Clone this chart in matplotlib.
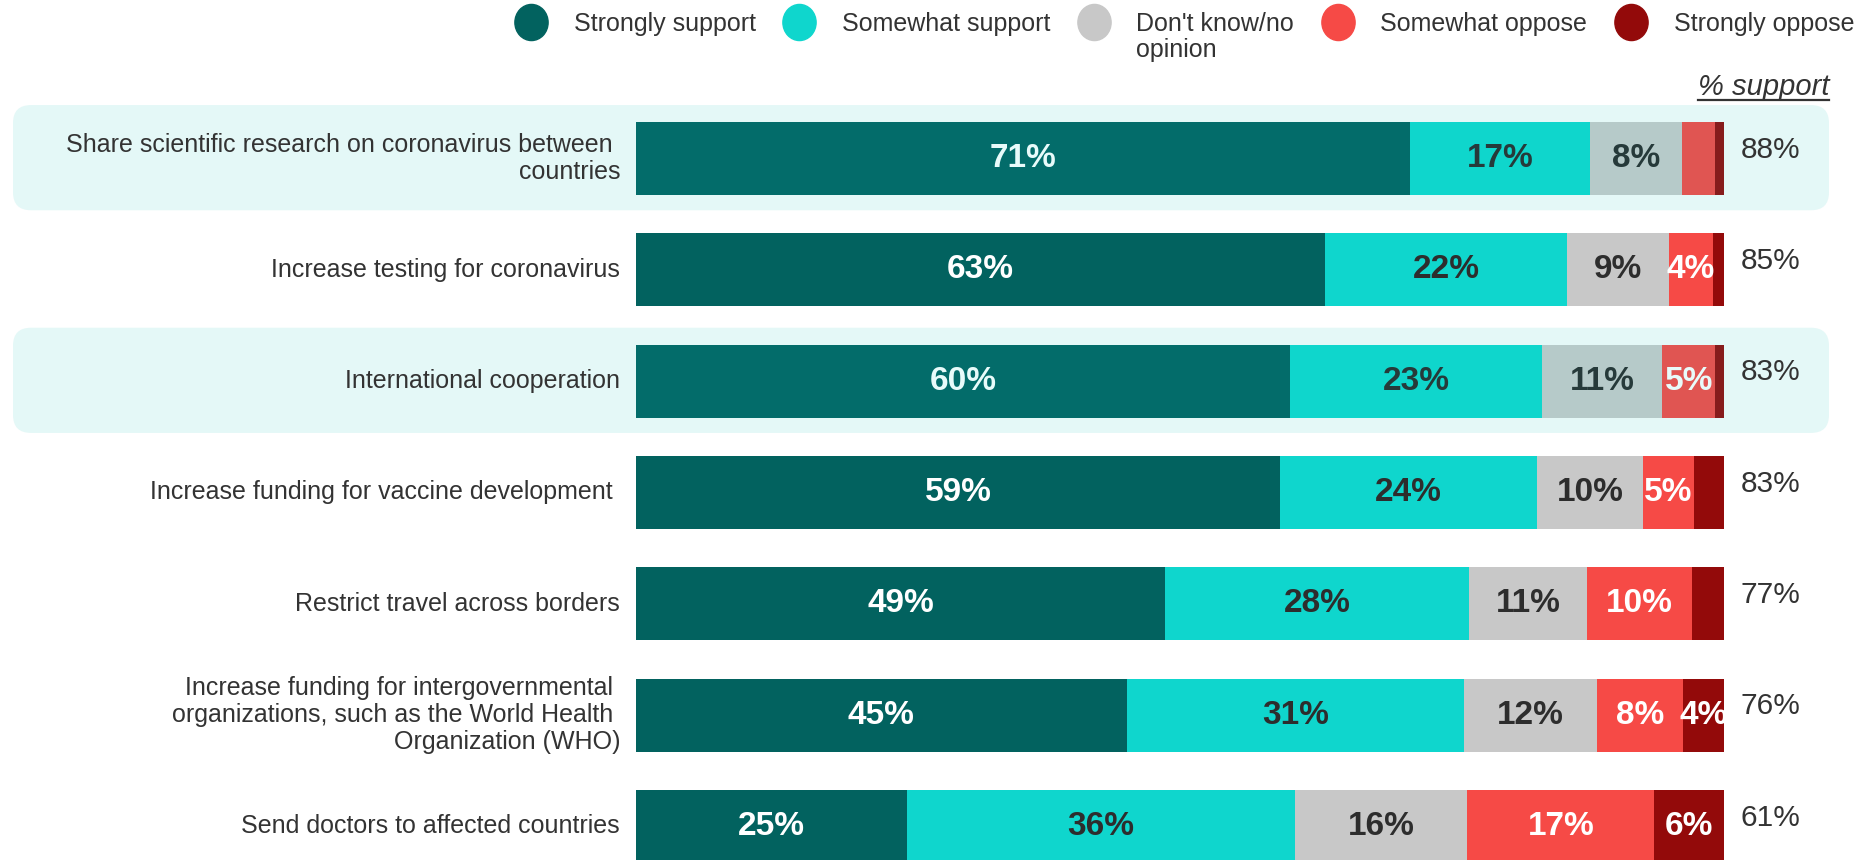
import matplotlib
matplotlib.use('Agg')
import matplotlib.pyplot as plt
from matplotlib.patches import FancyBboxPatch
from matplotlib.lines import Line2D
from matplotlib.path import Path
from matplotlib.transforms import Affine2D

plt.rcParams['font.family'] = ['Liberation Sans', 'DejaVu Sans']

# ---------------- data ----------------
categories = [
    "Share scientific research on coronavirus between \ncountries",
    "Increase testing for coronavirus",
    "International cooperation",
    "Increase funding for vaccine development ",
    "Restrict travel across borders",
    "Increase funding for intergovernmental \norganizations, such as the World Health \nOrganization (WHO)",
    "Send doctors to affected countries",
]
series = ["Strongly support", "Somewhat support", "Don't know/no",
          "Somewhat oppose", "Strongly oppose"]
series_extra_line = {2: "opinion"}   # second line of the "Don't know/no opinion" legend label
strongly_support = [71.1, 63.3, 60.1, 59.2, 48.6, 45.1, 24.9]
somewhat_support = [16.6, 22.3, 23.2, 23.6, 28.0, 31.0, 35.7]
dont_know = [8.4, 9.3, 11.0, 9.8, 10.8, 12.2, 15.8]
somewhat_oppose = [3.1, 4.1, 4.9, 4.6, 9.7, 7.9, 17.2]
strongly_oppose = [0.8, 1.0, 0.8, 2.8, 2.9, 3.8, 6.4]
pct_support = [88, 85, 83, 83, 77, 76, 61]
highlighted_rows = [0, 2]

# ---------------- style ----------------
colors = ['#02625f', '#0fd6cd', '#c8c8c8', '#f64a46', '#930a0a']
colors_hl = ['#036c6a', '#0fd6cc', '#b6cac9', '#e05552', '#861c1c']
txt_colors = ['white', '#2d2d2d', '#2d2d2d', 'white', 'white']
txt_colors_hl = ['#e8fbfa', '#263a3a', '#263a3a', '#e8fbfa', '#e8fbfa']
box_color = '#e4f8f7'
text_color = '#333333'

W, H = 1872, 860
fig = plt.figure(figsize=(W / 100, H / 100), dpi=100)
bar_left_px, bar_right_px = 636, 1724
ax = fig.add_axes([bar_left_px / W, 0, (bar_right_px - bar_left_px) / W, 1])
ax.set_xlim(0, 100)
row0_px, step_px = 158.5, 111.33
ax.set_ylim((H - row0_px) / step_px, -row0_px / step_px)
ax.axis('off')
px_x = (bar_right_px - bar_left_px) / 100.0  # pixels per x unit

data = [strongly_support, somewhat_support, dont_know, somewhat_oppose, strongly_oppose]
n = len(categories)
ys = list(range(n))
bar_h = 73 / step_px

# highlight boxes
for r in highlighted_rows:
    x0 = (13 - bar_left_px) / px_x
    x1 = (1829 - bar_left_px) / px_x
    rx = 18 / px_x
    box = FancyBboxPatch((x0, r - 0.48), x1 - x0, 0.945,
                         boxstyle=f"round,pad=0,rounding_size={rx}",
                         mutation_aspect=px_x / step_px,
                         facecolor=box_color, edgecolor='none', zorder=0,
                         clip_on=False)
    ax.add_patch(box)

left = [0.0] * n
for k, vals in enumerate(data):
    cols = [colors_hl[k] if i in highlighted_rows else colors[k] for i in range(n)]
    ax.barh(ys, vals, left=left, height=bar_h, color=cols, edgecolor='none', zorder=2)
    for i, v in enumerate(vals):
        lab = round(v)
        if lab >= 4:
            tc = txt_colors_hl[k] if i in highlighted_rows else txt_colors[k]
            ax.text(left[i] + v / 2, i, f"{lab}%", ha='center', va='center',
                    fontsize=24, fontweight='bold', color=tc, zorder=3)
    left = [a + b for a, b in zip(left, vals)]

# category labels
for i, c in enumerate(categories):
    ax.text((620 - bar_left_px) / px_x, i, c, ha='right', va='center',
            fontsize=18, color=text_color, linespacing=1.17, clip_on=False)

# % support labels
for i, p in enumerate(pct_support):
    ax.text(100 + (1741 - bar_right_px) / px_x, i - 0.08, f"{p}%", ha='left',
            va='center', fontsize=21.5, color=text_color, clip_on=False)

hdr = ax.text((1829 - bar_left_px) / px_x, (87 - row0_px) / step_px, "% support",
              ha='right', va='center', fontsize=21, style='italic',
              color=text_color, clip_on=False)

# legend
ell = Affine2D().scale(0.92, 1.0).transform_path(Path.unit_circle())
handles = [Line2D([], [], marker=ell, linestyle='none', markersize=26,
                  markerfacecolor=c, markeredgecolor=c) for c in colors]
leg = fig.legend(handles, series, loc='upper left',
                 bbox_to_anchor=(513.5 / W, 1 - 12 / H), ncol=5, frameon=False,
                 fontsize=18, handlelength=1.4, handletextpad=1.0,
                 columnspacing=1.05, borderpad=0, borderaxespad=0,
                 labelcolor=text_color)

fig.canvas.draw()
r = fig.canvas.get_renderer()
inv = fig.transFigure.inverted()

# second line of the multi-line legend label
for idx, extra in series_extra_line.items():
    lt = leg.get_texts()[idx]
    tb = lt.get_window_extent(r)
    fx, fy = inv.transform((tb.x0, tb.y0 - 26 + tb.height / 2))
    fig.text(fx, fy, extra, ha='left', va='center', fontsize=18, color=text_color)

# underline for header
bb = hdr.get_window_extent(r)
(xa, ya) = inv.transform((bb.x0, bb.y0 + 1))
(xb, _) = inv.transform((bb.x1, bb.y0 + 1))
fig.add_artist(Line2D([xa, xb], [ya, ya], transform=fig.transFigure,
                      color=text_color, linewidth=1.6))

fig.savefig('out.png', dpi=100)
